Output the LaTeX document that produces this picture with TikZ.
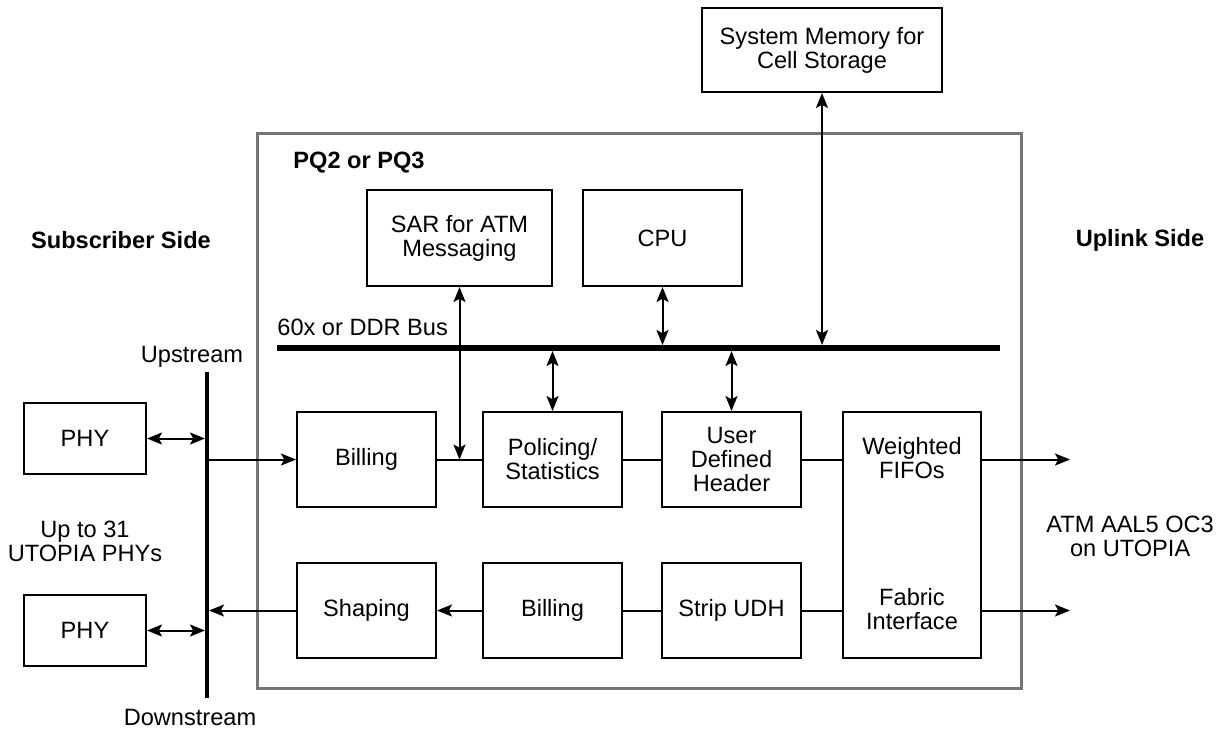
\documentclass[tikz,border=0pt]{standalone}
\usepackage{fontspec}
\setmainfont{Liberation Sans}
\usetikzlibrary{arrows.meta}
\begin{document}
\begin{tikzpicture}[x=0.5pt,y=-0.5pt,
  every node/.style={font=\fontsize{11.8}{12}\selectfont, inner sep=0pt},
  blk/.style={draw, line width=1pt, align=center},
  lbl/.style={align=center},
  conn/.style={line width=1pt},
  hdr/.style={font=\fontsize{11.8}{12}\selectfont\bfseries},
  >={Stealth[length=7.5pt,width=6pt,inset=1.6pt]},
]
\useasboundingbox (0,0) rectangle (1228,730);

% device outline
\draw[line width=1.5pt, draw=black!54] (257,133) rectangle (1021,688);
\node[hdr, anchor=west] (pq) at (293,163) {PQ2 or PQ3};

% side labels
\node[hdr] (subs) at (121,240) {Subscriber Side};
\node[hdr] (upl) at (1140,240) {Uplink Side};
\node[lbl] (utopia) at (85,541) {Up to 31\\UTOPIA PHYs};
\node[lbl, anchor=west] (atm) at (1046,536) {ATM AAL5 OC3\\on UTOPIA};

% blocks
\node[blk, minimum width=120pt, minimum height=42pt] (mem) at (822,50) {System Memory for\\Cell Storage};
\node[blk, minimum width=92.5pt, minimum height=48pt] (sar) at (459.5,238) {SAR for ATM\\Messaging};
\node[blk, minimum width=79.5pt, minimum height=48pt] (cpu) at (662.5,238) {CPU};

\node[blk, minimum width=69.5pt, minimum height=47.5pt] (bill) at (366.5,459.5) {Billing};
\node[blk, minimum width=69.5pt, minimum height=47.5pt] (pol) at (552.5,459.5) {Policing/\\Statistics};
\node[blk, minimum width=69.5pt, minimum height=47.5pt] (udh) at (731.5,459.5) {User\\Defined\\Header};
\node[blk, minimum width=69.5pt, minimum height=47.5pt] (shap) at (366.5,610.5) {Shaping};
\node[blk, minimum width=69.5pt, minimum height=47.5pt] (bill2) at (552.5,610.5) {Billing};
\node[blk, minimum width=69.5pt, minimum height=47.5pt] (strip) at (731.5,610.5) {Strip UDH};
\node[blk, minimum width=69pt, minimum height=123pt] (fifo) at (912,535) {};
\node[lbl] (wf) at (912,458) {Weighted\\FIFOs};
\node[lbl] (fi) at (912,609) {Fabric\\Interface};

\node[blk, minimum width=61pt, minimum height=35.5pt] (phy1) at (85,438.5) {PHY};
\node[blk, minimum width=61pt, minimum height=35.5pt] (phy2) at (85,630.5) {PHY};

% system bus
\coordinate (busL) at (277,348);
\coordinate (busR) at (1000,348);
\draw[line width=3pt] (busL) -- (busR);
\node[anchor=base west] (buslbl) at (277,335) {60x or DDR Bus};

% UTOPIA bus
\coordinate (vbT) at (207,372);
\coordinate (vbB) at (207,698);
\draw[line width=2pt] (vbT) -- (vbB);
\node[anchor=base] (ups) at (192,362) {Upstream};
\node[anchor=base] (dns) at (190,725) {Downstream};

% bus taps
\draw[conn,<->,shorten >=1.5pt] (mem.south) -- (mem.south |- busL);
\draw[conn,<->,shorten >=1.5pt] (cpu.south) -- (cpu.south |- busL);
\draw[conn,<->,shorten >=1.5pt] (pol.north) -- (pol.north |- busL);
\draw[conn,<->,shorten >=1.5pt] (udh.north) -- (udh.north |- busL);

% upstream path
\draw[conn,->] (bill.west -| vbT) -- (bill.west);
\draw[conn] (bill.east) -- (pol.west);
\draw[conn,<->] (sar.south) -- (sar.south |- bill.east);
\draw[conn] (pol.east) -- (udh.west);
\draw[conn] (udh.east) -- (udh.east -| fifo.west);
\coordinate (out1) at (1070,459.5);
\draw[conn,->] (udh.east -| fifo.east) -- (out1);

% downstream path
\coordinate (out2) at (1070,610.5);
\draw[conn,->] (strip.east -| fifo.east) -- (out2);
\draw[conn] (strip.east -| fifo.west) -- (strip.east);
\draw[conn] (strip.west) -- (bill2.east);
\draw[conn,->] (bill2.west) -- (shap.east);
\draw[conn,->,shorten >=1pt] (shap.west) -- (shap.west -| vbT);

% PHY links
\draw[conn,<->,shorten >=1pt] (phy1.east) -- (phy1.east -| vbT);
\draw[conn,<->,shorten >=1pt] (phy2.east) -- (phy2.east -| vbT);
\end{tikzpicture}
\end{document}
